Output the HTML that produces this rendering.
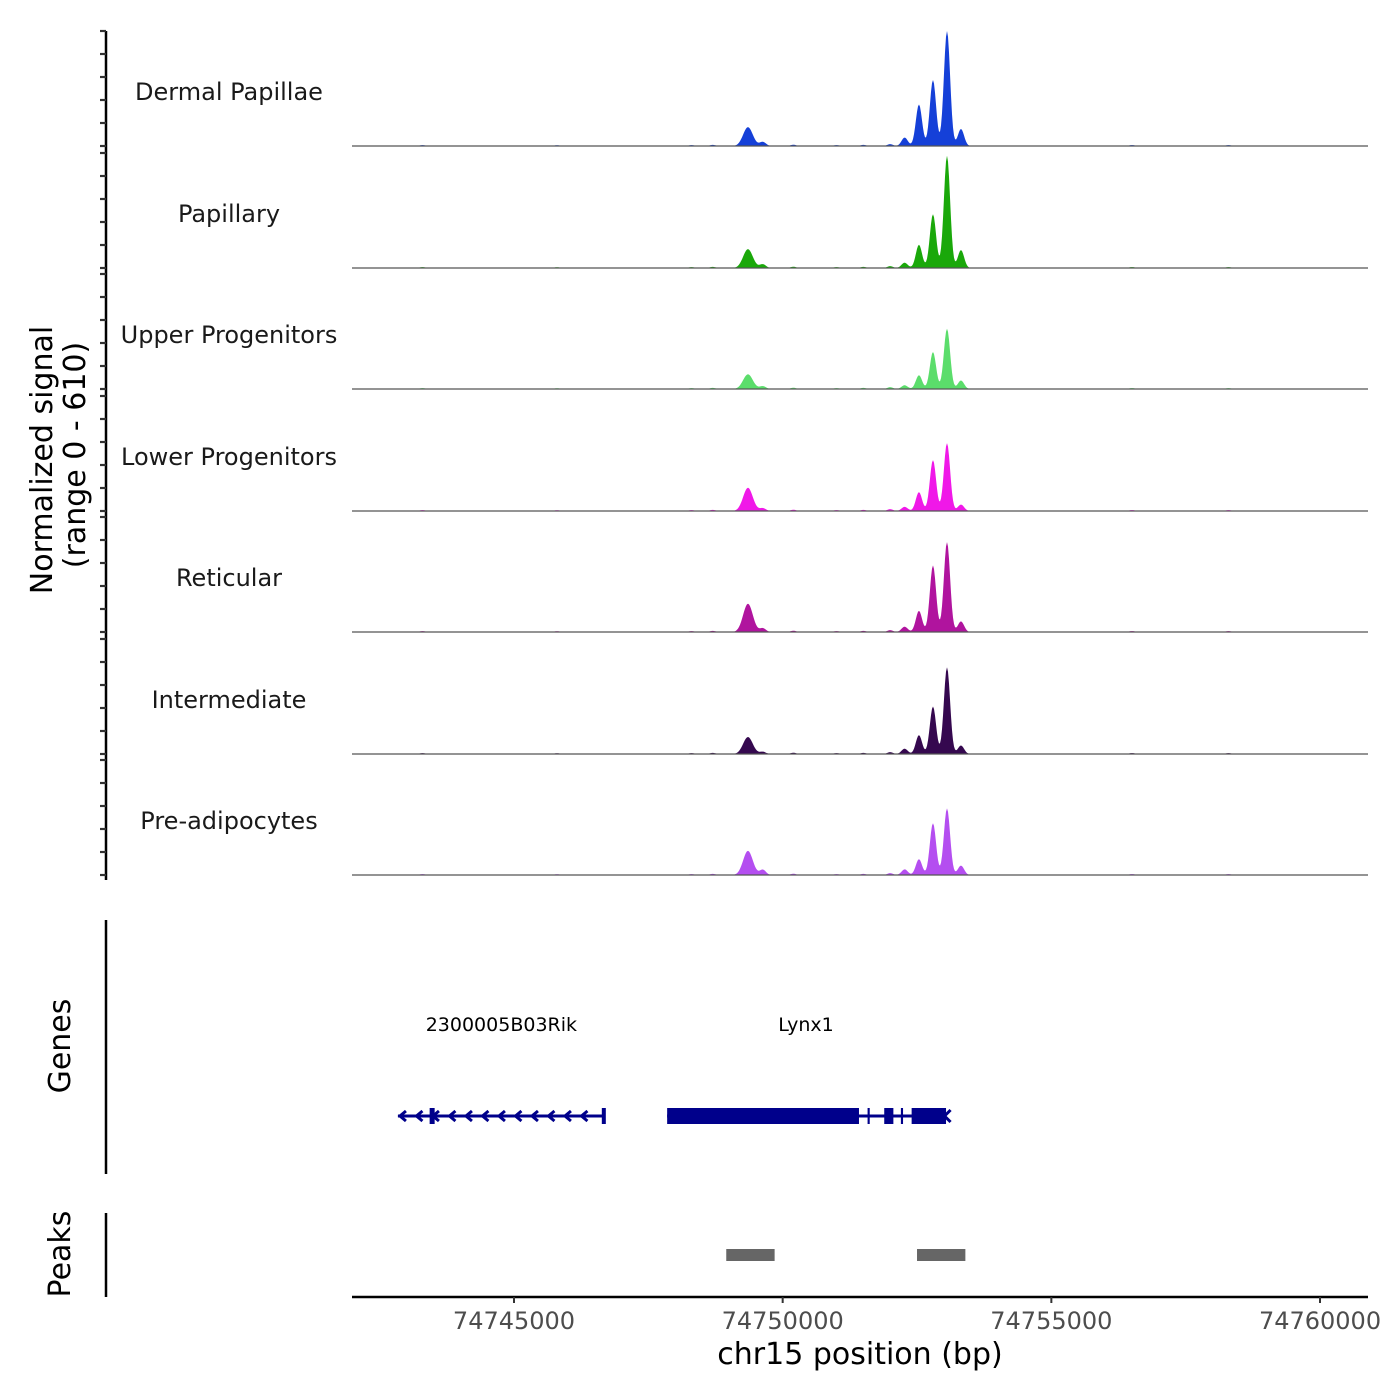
<!DOCTYPE html>
<html><head><meta charset="utf-8"><style>
html,body{margin:0;padding:0;background:#fff;}
svg{display:block;font-family:"DejaVu Sans","Liberation Sans",sans-serif;}
</style></head><body>
<svg id="chart" width="1400" height="1400" viewBox="0 0 1400 1400" xmlns="http://www.w3.org/2000/svg">
<g id="tracks"></g>
<g id="yaxis"></g>
<text transform="translate(52,460) rotate(-90)" text-anchor="middle" font-size="30" fill="#000">Normalized signal</text>
<text transform="translate(85,455) rotate(-90)" text-anchor="middle" font-size="30" fill="#000">(range 0 - 610)</text>
<line x1="106" y1="920" x2="106" y2="1174" stroke="#000" stroke-width="2.5"/>
<text transform="translate(70,1046) rotate(-90)" text-anchor="middle" font-size="30">Genes</text>
<line x1="106" y1="1213" x2="106" y2="1297" stroke="#000" stroke-width="2.5"/>
<text transform="translate(70,1254) rotate(-90)" text-anchor="middle" font-size="30">Peaks</text>
<g id="genes"></g>
<g id="peaks"></g>
<g id="xaxis"></g>
<text x="860" y="1364" text-anchor="middle" font-size="30">chr15 position (bp)</text>
</svg>
<script>
const NS="http://www.w3.org/2000/svg";
const trackNames=["Dermal Papillae","Papillary","Upper Progenitors","Lower Progenitors","Reticular","Intermediate","Pre-adipocytes"];
const trackColors=["#1540d8","#1aa80a","#5bdd6b","#f018e8","#b0149e","#35084f","#b44ef0"];
const peakCenters=[74749354,74749630,74752270,74752536,74752797,74753058,74753318];
const peakDP=[100,22,45,220,350,610,90];
const peakPap=[100,20,28,123,285,595,95];
const peakUpper=[78,15,20,73,196,320,45];
const peakLower=[123,15,22,100,270,360,34];
const peakRet=[150,20,28,112,353,477,56];
const peakInt=[90,12,28,100,252,460,45];
const peakPre=[128,28,30,84,275,353,50];
const peakSeries=[peakDP,peakPap,peakUpper,peakLower,peakRet,peakInt,peakPre];
const noiseBp=[74743300,74745800,74748300,74748700,74750200,74751000,74751500,74752000,74756500,74758300];
const noiseVals=[5,4,5,6,7,5,6,10,5,5];
const xTicks=[74745000,74750000,74755000,74760000];
const genePos={rik:[74742840,74746690],lynx:[74747850,74753050]};
const peakRegions=[[74748950,74749850],[74752500,74753400]];
const X0=352,X1=1368,BP0=74741985,BP1=74760893;
const x=bp=>X0+(bp-BP0)/(BP1-BP0)*(X1-X0);
const baselines=[146,268,389,511,632,754,875];
const yMax=610, trackH=115;
function el(t,a,p){const e=document.createElementNS(NS,t);for(const k in a)e.setAttribute(k,a[k]);p.appendChild(e);return e;}
const tg=document.getElementById('tracks');
const widthBp=58;
trackNames.forEach((nm,i)=>{
  const b=baselines[i];const vals=peakSeries[i];
  let d=`M${X0},${b}`;
  for(let px=X0;px<=X1;px+=1){
    const bp=BP0+(px-X0)/(X1-X0)*(BP1-BP0);
    let v=0;
    peakCenters.forEach((c,k)=>{const s=(k==0?90:widthBp);v+=vals[k]*Math.exp(-((bp-c)**2)/(2*s*s));});
    noiseBp.forEach((c,k)=>{v+=noiseVals[k]*Math.exp(-((bp-c)**2)/(2*50*50));});
    d+=` L${px},${(b-v/yMax*trackH).toFixed(1)}`;
  }
  d+=` L${X1},${b} Z`;
  const p=el('path',{d:d,fill:trackColors[i]},tg);
  
  
  const bl=el('line',{x1:X0,x2:X1,y1:b,y2:b,stroke:'#555','stroke-width':1.2},tg);
  
  
  const t=el('text',{x:229,y:b-46,'text-anchor':'middle','font-size':24,fill:'#1a1a1a'},tg);
  t.textContent=nm;
  
  
});
const ya=document.getElementById('yaxis');
const al=el('line',{x1:106,x2:106,y1:31,y2:880,stroke:'#000','stroke-width':2.5},ya);


baselines.forEach(b=>{for(let k=0;k<=5;k++){const yy=b-k*trackH/5;
  const tk=el('line',{x1:100,x2:106,y1:yy,y2:yy,stroke:'#333','stroke-width':2.2},ya);
  
  }});
const gg=document.getElementById('genes');const C='#00008b';const gy=1116;
function glabel(txt,cx){const t=el('text',{x:cx,y:1031,'text-anchor':'middle','font-size':19,fill:'#000'},gg);t.textContent=txt;
  }
const r0=x(genePos.rik[0]),r1=x(genePos.rik[1]);
const rl=el('line',{x1:r0,x2:r1,y1:gy,y2:gy,stroke:C,'stroke-width':3},gg);

for(let ax=r0+2;ax<r1-12;ax+=16.5){el('path',{d:`M${ax+6},${gy-5} L${ax},${gy} L${ax+6},${gy+5}`,fill:'none',stroke:C,'stroke-width':3},gg);}
el('rect',{x:x(74743430),y:gy-8,width:5,height:16,fill:C},gg);
el('rect',{x:r1-3,y:gy-8,width:4,height:16,fill:C},gg);
glabel('2300005B03Rik',(r0+r1)/2);
const l0=x(genePos.lynx[0]),l1=x(genePos.lynx[1]);
const ll=el('line',{x1:l0,x2:l1,y1:gy,y2:gy,stroke:C,'stroke-width':3},gg);

[[74747850,74751420],[74751580,74751620],[74751890,74752060],[74752200,74752240],[74752400,74753040]].forEach(e=>{
  el('rect',{x:x(e[0]),y:gy-8,width:x(e[1])-x(e[0]),height:16,fill:C},gg);});
el('path',{d:`M${l1+4},${gy-6} L${l1-2},${gy} L${l1+4},${gy+6}`,fill:'none',stroke:C,'stroke-width':3},gg);
glabel('Lynx1',806);
const pg=document.getElementById('peaks');
peakRegions.forEach(r=>{const rc=el('rect',{x:x(r[0]),y:1249,width:x(r[1])-x(r[0]),height:12,fill:'#666'},pg);
  });
const xg=document.getElementById('xaxis');
el('line',{x1:X0,x2:X1,y1:1297,y2:1297,stroke:'#000','stroke-width':2.5},xg);
xTicks.forEach(v=>{const xx=x(v);el('line',{x1:xx,x2:xx,y1:1297,y2:1303,stroke:'#333','stroke-width':2},xg);
  const t=el('text',{x:xx,y:1329,'text-anchor':'middle','font-size':24,fill:'#4d4d4d'},xg);t.textContent=v;
  });
</script>
</body></html>
